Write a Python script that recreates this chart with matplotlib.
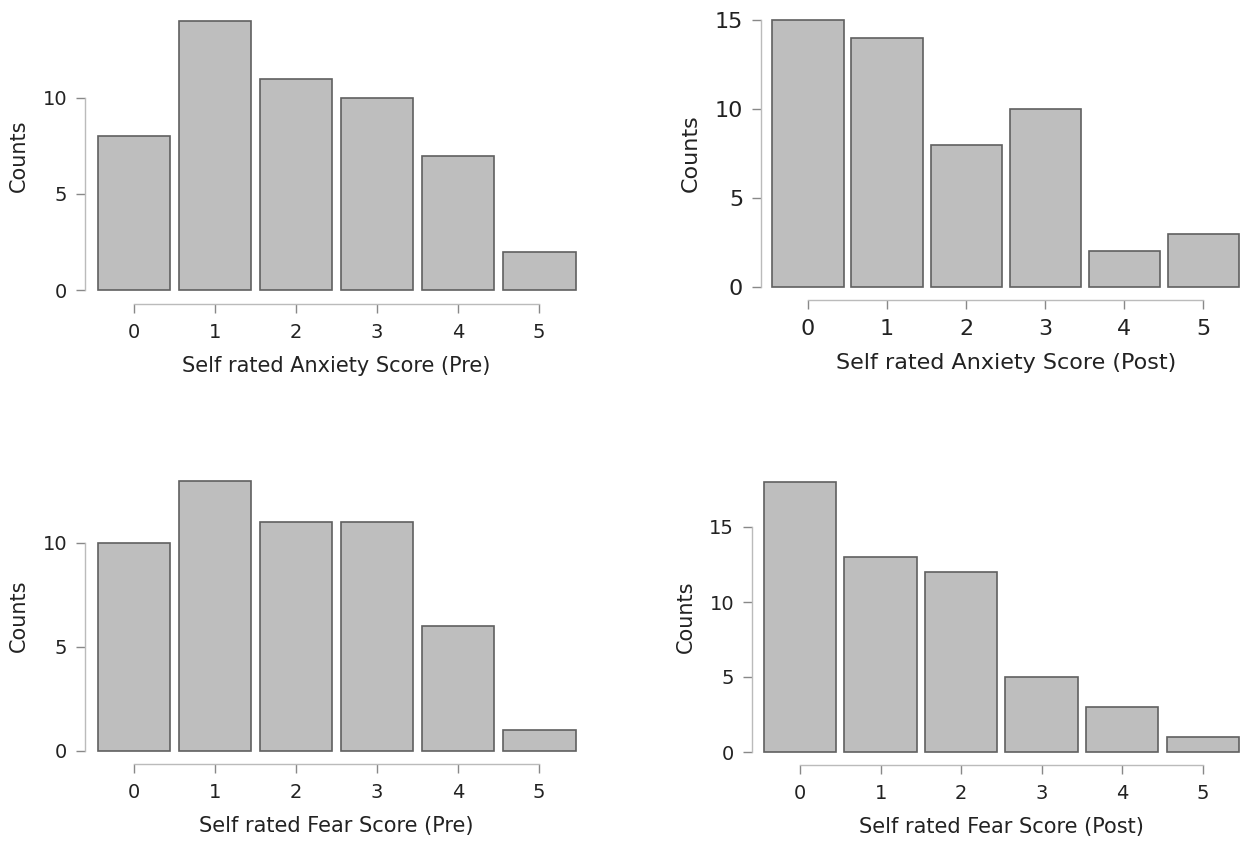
import numpy as np
import matplotlib.pyplot as plt

scores = [0, 1, 2, 3, 4, 5]
anxiety_pre = [8, 14, 11, 10, 7, 2]
anxiety_post = [15, 14, 8, 10, 2, 3]
fear_pre = [10, 13, 11, 11, 6, 1]
fear_post = [18, 13, 12, 5, 3, 1]

W, H = 1243, 841
fig = plt.figure(figsize=(W / 100, H / 100), dpi=100)

# data, label, axes box in px (left, right, bottom, top), ylim top, last y tick,
# tick font, label font, left spine offset px, bottom spine offset px
panels = [
    (anxiety_pre, "Self rated Anxiety Score (Pre)", (97.5, 575.5, 290, 21), 14, 10, 14, 15, 12.5, 14),
    (anxiety_post, "Self rated Anxiety Score (Post)", (772.4, 1239, 287, 20), 15, 15, 16, 16, 11.4, 13),
    (fear_pre, "Self rated Fear Score (Pre)", (97.5, 575.5, 751, 480.6), 13, 10, 14, 15, 12.5, 13),
    (fear_post, "Self rated Fear Score (Post)", (763.8, 1239, 752, 482), 18, 15, 14, 15, 11.8, 13),
]

for counts, label, (l, r, b, t), ytop, ymax, tfs, lfs, offx, offy in panels:
    ax = fig.add_axes([l / W, 1 - b / H, (r - l) / W, (b - t) / H])
    bars = ax.bar(scores, counts, width=0.9, color="#bebebe", edgecolor="#606060", linewidth=1.2)
    for p in bars:
        p.set_clip_on(False)
    ax.set_xlim(-0.45, 5.45)
    ax.set_ylim(0, ytop)
    ax.patch.set_visible(False)
    for s in ["top", "right"]:
        ax.spines[s].set_visible(False)
    ax.spines["left"].set_position(("outward", offx * 0.72))
    ax.spines["bottom"].set_position(("outward", offy * 0.72))
    ax.spines["left"].set_bounds(0, ymax)
    ax.spines["bottom"].set_bounds(0, 5)
    for s in ["left", "bottom"]:
        ax.spines[s].set_color("#bbbbbb")
        ax.spines[s].set_linewidth(1.0)
    ax.set_xticks(scores)
    ax.set_yticks(np.arange(0, ymax + 1, 5))
    ax.tick_params(colors="#888888", labelcolor="#222222", labelsize=tfs,
                   length=6.8, width=1.0)
    ax.tick_params(axis="x", pad=7)
    ax.tick_params(axis="y", pad=6)
    ax.set_xlabel(label, fontsize=lfs, color="#222222", labelpad=10)
    ax.set_ylabel("Counts", fontsize=lfs, color="#222222", labelpad=10)

plt.savefig("out.png", dpi=100)
